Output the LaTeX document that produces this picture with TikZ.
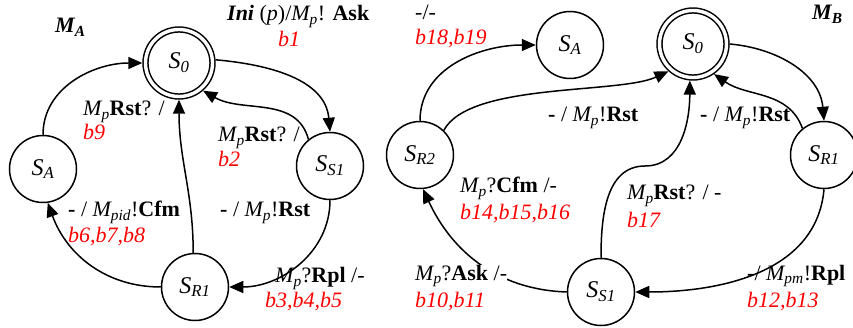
\documentclass[tikz,border=0pt]{standalone}
\usepackage{fontspec}
\setmainfont{Liberation Serif}
\usetikzlibrary{arrows.meta}
\newcommand{\sbx}[1]{\textsubscript{#1}}
\begin{document}
\begin{tikzpicture}[x=1pt,y=1pt,
  st/.style={circle,draw,line width=1.5pt,minimum size=67pt,inner sep=0pt,font=\fontsize{24}{26}\selectfont\itshape},
  st0/.style={st,double,double distance=3.4pt,outer sep=3.2pt},
  lab/.style={anchor=base west,inner sep=0pt,font=\fontsize{22}{24}\selectfont},
  rlab/.style={anchor=base west,inner sep=0pt,text=red,font=\fontsize{22}{24}\selectfont\itshape},
  conn/.style={line width=1.5pt,-{Triangle[length=14pt,width=12pt]}}
]
\useasboundingbox (0,0) rectangle (853,-328);
% machine A
\node[st0] (a0) at (179,-63) {S\sbx{0}};
\node[st] (aA) at (43,-169) {S\sbx{A}};
\node[st] (aS1) at (330,-166) {S\sbx{S1}};
\node[st] (aR1) at (195,-287) {S\sbx{R1}};
% machine B
\node[st] (bA) at (570,-45) {S\sbx{A}};
\node[st0] (b0) at (693,-44) {S\sbx{0}};
\node[st] (bR2) at (420,-155) {S\sbx{R2}};
\node[st] (bR1) at (824,-155) {S\sbx{R1}};
\node[st] (bS1) at (601,-292) {S\sbx{S1}};
\coordinate (bmid) at (645,-166);
% edges A
\draw[conn] (aA.north) to[out=90,in=180] (a0.west);
\draw[conn] (a0.5) to[out=-5,in=95] (aS1.north);
\draw[conn] (aS1.129) to[out=105,in=-30] (a0.-49);
\draw[conn] (aR1.93) to[out=90,in=-90] (a0.south);
\draw[conn] (aS1.south) to[out=-90,in=0] (aR1.east);
\draw[conn] (aR1.west) to[out=180,in=-70] (aA.-82);
% edges B
\draw[conn] (bR2.north) to[out=90,in=180] (bA.west);
\draw[conn] (bR2.46) to[out=62,in=-155,looseness=0.6] (b0.-132);
\draw[conn] (b0.east) to[out=-5,in=95] (bR1.north);
\draw[conn] (bR1.129) to[out=110,in=-35] (b0.-55);
\draw[conn] (bS1.north) to[out=90,in=180] (bmid) to[out=0,in=-90] (b0.-95);
\draw[conn] (bR1.south) to[out=-95,in=0] (bS1.east);
\draw[conn] (bS1.west) to[out=178,in=-65] (bR2.-85);
% labels A
\node[lab] (tMA) at (55,-33) {\textbf{\textit{M\sbx{A}}}};
\node[lab] (tIni) at (227,-21) {\textbf{\textit{Ini}} (\textit{p})/\textit{M\sbx{p}}! \textbf{Ask}};
\node[rlab] (tb1) at (278,-47) {b1};
\node[lab] (tl9) at (83,-116) {\textit{M\sbx{p}}\textbf{Rst}? /};
\node[rlab] (tb9) at (83,-140) {b9};
\node[lab] (tl2) at (218,-142) {\textit{M\sbx{p}}\textbf{Rst}? /};
\node[rlab] (tb2) at (218,-167) {b2};
\node[lab] (tl6) at (68,-217) {\textbf{-} / \textit{M\sbx{pid}}!\textbf{Cfm}};
\node[rlab] (tb6) at (68,-243) {b6,b7,b8};
\node[lab] (tlr) at (220,-217) {\textbf{-} / \textit{M\sbx{p}}!\textbf{Rst}};
\node[lab] (tl3) at (275,-283) {\textit{M\sbx{p}}?\textbf{Rpl} /-};
\node[rlab] (tb3) at (265,-308) {b3,b4,b5};
% labels B
\node[lab] (tl18) at (415,-20) {-/-};
\node[rlab] (tb18) at (415,-45) {b18,b19};
\node[lab] (tMB) at (812,-20) {\textbf{\textit{M\sbx{B}}}};
\node[lab] (tr2) at (548,-122) {\textbf{-} / \textit{M\sbx{p}}!\textbf{Rst}};
\node[lab] (tr1) at (700,-122) {\textbf{-} / \textit{M\sbx{p}}!\textbf{Rst}};
\node[lab] (tl14) at (460,-193) {\textit{M\sbx{p}}?\textbf{Cfm} /-};
\node[rlab] (tb14) at (460,-220) {b14,b15,b16};
\node[lab] (tl17) at (627,-200) {\textit{M\sbx{p}}\textbf{Rst}? / -};
\node[rlab] (tb17) at (627,-228) {b17};
\node[lab,fill=white] (tl10) at (415,-280) {\textit{M\sbx{p}}?\textbf{Ask} /-};
\node[rlab] (tb10) at (415,-307) {b10,b11};
\node[lab] (tl12) at (747,-280) {\textbf{-}/ \textit{M\sbx{pm}}!\textbf{Rpl}};
\node[rlab] (tb12) at (747,-307) {b12,b13};
\end{tikzpicture}
\end{document}
